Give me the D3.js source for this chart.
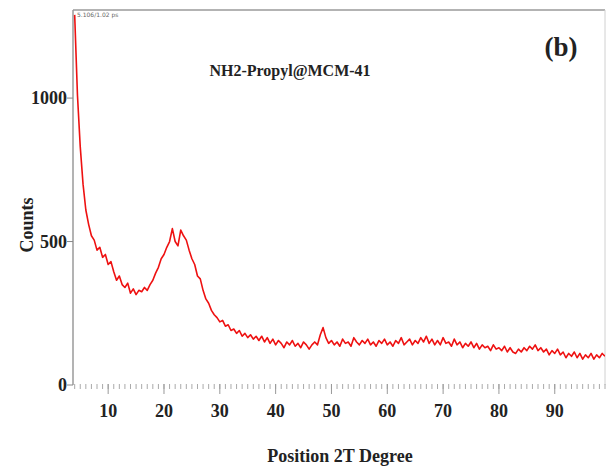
<!DOCTYPE html>
<html>
<head>
<meta charset="utf-8">
<script src="https://cdn.jsdelivr.net/npm/d3@7"></script>
<style>
  body { margin: 0; background: #fff; }
  text { font-family: "Liberation Serif", "Times New Roman", serif; }
</style>
</head>
<body>
<div id="chart"></div>
<script>
// Chart size and plot margins
const width = 607;
const height = 473;
const margin = { top: 10, right: 2, bottom: 88, left: 73 };

// Data: counts sampled every 0.5 degree starting at 4.0 (2 theta)
const startAngle = 4.0;
const stepAngle = 0.5;
const counts = [
  1290, 1010, 830, 700, 610, 560, 520, 505, 470, 480, 445, 455, 420, 430, 395, 365,
  380, 350, 340, 355, 320, 335, 315, 330, 325, 340, 330, 350, 365, 390, 410, 440,
  455, 480, 500, 545, 500, 485, 540, 520, 505, 470, 440, 420, 380, 370, 330, 300,
  285, 260, 245, 235, 220, 225, 205, 210, 190, 195, 180, 190, 170, 180, 165, 175,
  160, 170, 155, 170, 150, 165, 145, 160, 140, 155, 145, 130, 150, 140, 155, 135,
  145, 130, 150, 140, 125, 140, 150, 140, 175, 200, 165, 145, 155, 140, 150, 135,
  160, 145, 150, 135, 165, 150, 140, 155, 145, 160, 140, 150, 135, 155, 145, 160,
  140, 150, 135, 155, 145, 165, 140, 150, 160, 140, 155, 145, 165, 150, 170, 145,
  160, 140, 155, 140, 165, 145, 150, 135, 160, 140, 150, 130, 145, 135, 150, 130,
  145, 125, 140, 130, 135, 120, 140, 125, 130, 120, 135, 115, 130, 115, 110, 125,
  115, 130, 120, 135, 125, 140, 120, 130, 115, 125, 105, 120, 110, 125, 105, 115,
  95, 110, 100, 115, 95, 110, 90, 105, 95, 110, 90, 105, 95, 110, 100
];
const xTicks = [10, 20, 30, 40, 50, 60, 70, 80, 90];
const yTicks = [0, 500, 1000];

const points = counts.map((c, i) => ({ x: startAngle + i * stepAngle, y: c }));

// Create SVG
const svg = d3.select("#chart")
    .append("svg")
    .attr("width", width)
    .attr("height", height);

// Scales
const x = d3.scaleLinear()
    .domain([3.7, 99])
    .range([margin.left, width - margin.right]);
const y = d3.scaleLinear()
    .domain([0, 1307])
    .range([height - margin.bottom, margin.top]);

const x0 = margin.left, x1 = width - margin.right;
const y0 = height - margin.bottom, y1 = margin.top;

// Frame: left axis, top and right borders
svg.append("line").attr("x1", x0).attr("x2", x0).attr("y1", y1).attr("y2", y0)
    .attr("stroke", "#9a9a9a").attr("stroke-width", 1.5);
svg.append("line").attr("x1", x0).attr("x2", x1).attr("y1", y1).attr("y2", y1)
    .attr("stroke", "#9a9a9a").attr("stroke-width", 1.5);
svg.append("line").attr("x1", x1).attr("x2", x1).attr("y1", y1).attr("y2", y0)
    .attr("stroke", "#d0d0d0").attr("stroke-width", 1);

// Y ticks and labels
svg.selectAll(".ytick")
    .data(yTicks)
    .join("line")
    .attr("class", "ytick")
    .attr("x1", x0 - 6).attr("x2", x0)
    .attr("y1", d => y(d)).attr("y2", d => y(d))
    .attr("stroke", "#888");

svg.selectAll(".ylabel")
    .data(yTicks)
    .join("text")
    .attr("class", "ylabel")
    .attr("x", x0 - 6)
    .attr("y", d => y(d))
    .attr("dy", "0.35em")
    .attr("text-anchor", "end")
    .style("font-size", "18px")
    .style("font-weight", "bold")
    .style("fill", "#222")
    .text(d => d);

// X minor ticks (every degree) and major ticks
const minor = d3.range(4, 100, 1);
svg.selectAll(".xminor")
    .data(minor)
    .join("line")
    .attr("class", "xminor")
    .attr("x1", d => x(d)).attr("x2", d => x(d))
    .attr("y1", y0 - 1).attr("y2", y0 + 4)
    .attr("stroke", "#aaa");

svg.selectAll(".xmajor")
    .data(xTicks)
    .join("line")
    .attr("class", "xmajor")
    .attr("x1", d => x(d)).attr("x2", d => x(d))
    .attr("y1", y0 - 1).attr("y2", y0 + 9)
    .attr("stroke", "#999");

svg.selectAll(".xlabel")
    .data(xTicks)
    .join("text")
    .attr("class", "xlabel")
    .attr("x", d => x(d))
    .attr("y", y0 + 32)
    .attr("text-anchor", "middle")
    .style("font-size", "18px")
    .style("font-weight", "bold")
    .style("fill", "#222")
    .text(d => d);

// Axis titles
svg.append("text")
    .attr("x", 340)
    .attr("y", 462)
    .attr("text-anchor", "middle")
    .style("font-size", "18px")
    .style("font-weight", "bold")
    .style("fill", "#222")
    .text("Position 2T Degree");

svg.append("text")
    .attr("transform", "translate(33,225) rotate(-90)")
    .attr("text-anchor", "middle")
    .style("font-size", "18px")
    .style("font-weight", "bold")
    .style("fill", "#222")
    .text("Counts");

// Clip for the curve
svg.append("clipPath").attr("id", "plot-clip")
    .append("rect")
    .attr("x", x0).attr("y", y1)
    .attr("width", x1 - x0).attr("height", y0 - y1);

// Data curve
const line = d3.line()
    .x(d => x(d.x))
    .y(d => y(d.y));

svg.append("path")
    .datum(points)
    .attr("clip-path", "url(#plot-clip)")
    .attr("d", line)
    .attr("fill", "none")
    .attr("stroke", "#ee1111")
    .attr("stroke-width", 1.6)
    .attr("stroke-linejoin", "round");

// Annotations
svg.append("text")
    .attr("x", x0 + 4)
    .attr("y", y1 + 7)
    .style("font-size", "6px")
    .style("font-family", "DejaVu Sans, sans-serif")
    .style("fill", "#666")
    .text("5.106/1.02 ps");

svg.append("text")
    .attr("x", 290)
    .attr("y", 76)
    .attr("text-anchor", "middle")
    .style("font-size", "16px")
    .style("font-weight", "bold")
    .style("fill", "#222")
    .text("NH2-Propyl@MCM-41");

svg.append("text")
    .attr("x", 561)
    .attr("y", 56)
    .attr("text-anchor", "middle")
    .style("font-size", "27px")
    .style("font-weight", "bold")
    .style("fill", "#222")
    .text("(b)");
</script>
</body>
</html>
